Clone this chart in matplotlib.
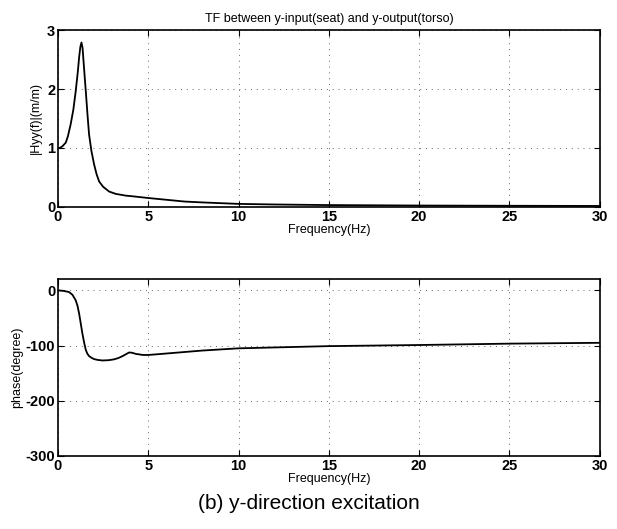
import matplotlib.pyplot as plt

# magnitude of the transfer function
freq_mag = [0, 0.1, 0.25, 0.43, 0.55, 0.7, 0.85, 0.98, 1.1, 1.17, 1.24, 1.3,
            1.36, 1.42, 1.48, 1.54, 1.63, 1.72, 1.85, 2.0, 2.14, 2.28, 2.5,
            2.83, 3.2, 3.76, 4.1, 5.0, 6.0, 7.0, 8.0, 10.0, 12.0, 15.0,
            20.0, 25.0, 30.0]
mag = [1.0, 1.0, 1.03, 1.09, 1.2, 1.4, 1.65, 1.96, 2.3, 2.54, 2.72, 2.79,
       2.7, 2.45, 2.2, 1.96, 1.58, 1.23, 0.95, 0.72, 0.55, 0.43, 0.34,
       0.26, 0.22, 0.19, 0.18, 0.15, 0.12, 0.09, 0.075, 0.05, 0.04, 0.03,
       0.022, 0.018, 0.015]

# phase of the transfer function (degree)
freq_ph = [0, 0.3, 0.61, 0.8, 0.98, 1.08, 1.17, 1.26, 1.35, 1.45, 1.54, 1.63,
           1.72, 1.85, 2.0, 2.2, 2.47, 2.8, 3.1, 3.35, 3.58, 3.8, 3.94, 4.1,
           4.3, 4.7, 5.0, 5.4, 8.0, 10.0, 15.0, 20.0, 25.0, 30.0]
phase = [0, -1, -3, -8, -18, -28, -42, -60, -78, -95, -108, -115,
         -119, -122, -124.5, -126, -127, -126.5, -125, -122.5, -119, -115,
         -112.5, -113, -115, -117, -117, -116, -109, -105, -101, -99, -96.5, -95]

xticks = [0, 5, 10, 15, 20, 25, 30]
mag_ticks = [0, 1, 2, 3]
ph_ticks = [0, -100, -200, -300]

plt.rcParams['font.family'] = ['Liberation Sans', 'DejaVu Sans']
plt.rcParams['axes.unicode_minus'] = False
fig = plt.figure(figsize=(6.17, 5.29), dpi=100)

ax1 = fig.add_axes([0.094, 0.609, 0.878, 0.334])
ax2 = fig.add_axes([0.094, 0.138, 0.878, 0.334])

for ax in (ax1, ax2):
    ax.set_xlim(0, 30)
    ax.set_xticks(xticks)
    ax.grid(True, linestyle=(0, (1, 5)), color='#666666', linewidth=0.7)
    ax.tick_params(direction='in', top=True, right=True, length=4,
                   labelsize=10.5, pad=2)
    for lab in ax.get_xticklabels() + ax.get_yticklabels():
        lab.set_fontweight('bold')
    for sp in ax.spines.values():
        sp.set_linewidth(1.2)
    ax.set_xlabel('Frequency(Hz)', fontsize=9, labelpad=0)

ax1.plot(freq_mag, mag, color='k', linewidth=1.3)
ax1.set_ylim(0, 3)
ax1.set_yticks(mag_ticks)
ax1.set_ylabel('|Hyy(f)|(m/m)', fontsize=9, labelpad=4)
ax1.set_title('TF between y-input(seat) and y-output(torso)', fontsize=9, pad=6)

ax2.plot(freq_ph, phase, color='k', linewidth=1.3)
ax2.set_ylim(-300, 20)
ax2.set_yticks(ph_ticks)
ax2.set_ylabel('phase(degree)', fontsize=9, labelpad=2)

fig.text(0.50, 0.048, '(b) y-direction excitation', fontsize=15,
         ha='center', va='center')

plt.savefig('out.png', dpi=100)
